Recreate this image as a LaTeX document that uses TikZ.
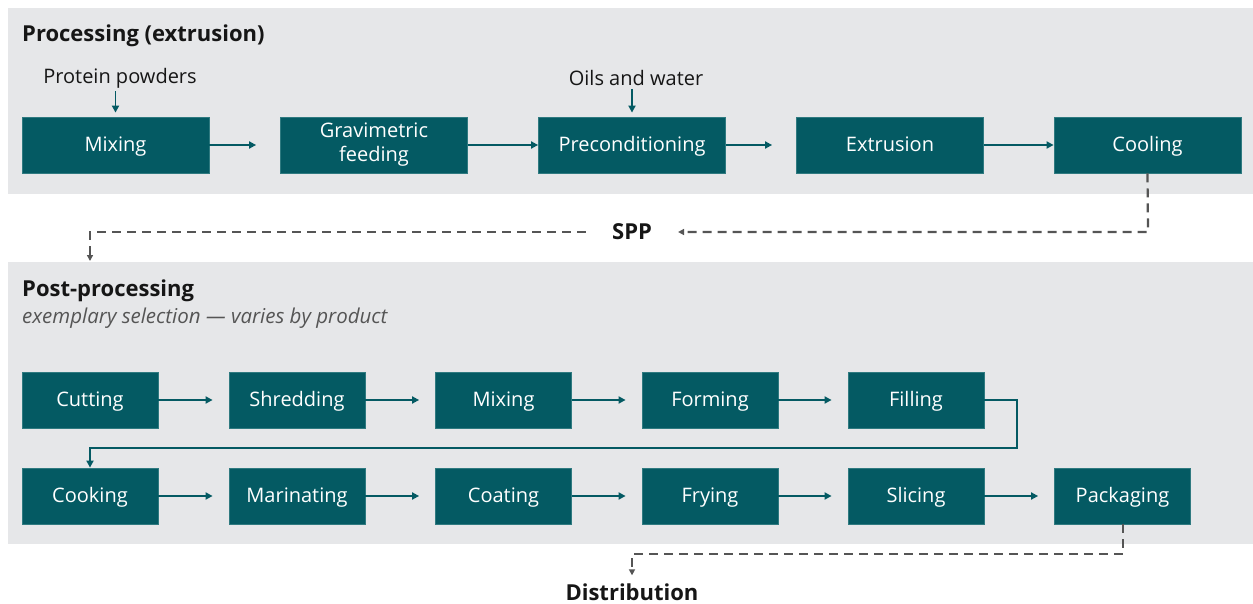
\documentclass[tikz,border=0pt]{standalone}
\usepackage{fontspec}
\setmainfont{Open Sans}
\usetikzlibrary{arrows.meta,calc}
\definecolor{teal}{HTML}{045A63}
\definecolor{tealedge}{HTML}{2F7A80}
\definecolor{band}{HTML}{E6E7E9}
\definecolor{dashgray}{HTML}{555555}
\definecolor{ink}{HTML}{161616}
\begin{document}
\begin{tikzpicture}[x=1pt,y=-1pt,
  stepbase/.style={draw=tealedge,line width=0.8pt,fill=teal,text=white,font=\fontsize{20}{24}\selectfont,align=center,minimum height=56pt,inner sep=0pt},
  stepbox/.style={stepbase,text height=15pt,text depth=1.5pt},
  widebox/.style={stepbox,minimum width=187pt},
  narrowbox/.style={stepbox,minimum width=136pt},
  arr/.style={draw=teal,line width=1.8pt,-{Triangle[length=7pt,width=7pt]}},
  dasharr/.style={draw=dashgray,line width=2.2pt,dash pattern=on 9pt off 6pt,-{Triangle[length=6pt,width=6pt]}},
  sectitle/.style={anchor=west,text=ink,font=\fontsize{22}{26}\selectfont\bfseries,inner sep=0pt},
  label/.style={text=ink,font=\fontsize{20}{24}\selectfont,inner sep=0pt},
  bigbold/.style={text=ink,font=\fontsize{22}{26}\selectfont\bfseries,inner sep=0pt},
]
\useasboundingbox (0,0) rectangle (1253,604);
\fill[white] (0,0) rectangle (1253,604);
% bands
\fill[band] (8,8) rectangle (1253,194);
\fill[band] (8,262) rectangle (1253,544);

% titles
\node[sectitle] (t1) at (22,36) {Processing (extrusion)};
\node[sectitle] (t2) at (22,291) {Post-processing};
\node[anchor=west,inner sep=0pt,text=dashgray,font=\fontsize{20.5}{24}\selectfont\itshape] (t3) at (22,318) {exemplary selection — varies by product};

% top row
\node[widebox] (mix1) at (115.5,145) {Mixing};
\node[stepbase,minimum width=187pt] (grav) at (374,145) {Gravimetric\\feeding};
\node[widebox] (prec) at (632,145) {Preconditioning};
\node[widebox] (extr) at (890,145) {Extrusion};
\node[widebox] (cool) at (1147.5,145) {Cooling};

\node[label] (pp) at (120,78) {Protein powders};
\node[label] (ow) at (636,78) {Oils and water};

\draw[arr] (pp.south -| mix1.north) ++(0,3) -- ($(mix1.north)+(0,-4)$);
\draw[arr] (ow.south -| prec.north) ++(0,3) -- ($(prec.north)+(0,-4)$);

\draw[arr,shorten >=24pt] (mix1) -- (grav);
\draw[arr] (grav) -- (prec);
\draw[arr,shorten >=24pt] (prec) -- (extr);
\draw[arr] (extr) -- (cool);

% SPP
\node[bigbold] (spp) at (632,232) {SPP};
\coordinate (c1) at (1148,232);
\coordinate (c2) at (90,232);
\coordinate (c3) at (90,261);
\draw[dasharr,shorten >=26pt] (cool.south) -- (c1) -- (spp.east);
\draw[dasharr,shorten <=26pt] (spp.west) -- (c2) -- (c3);

% bottom rows
\node[narrowbox] (cut) at (90,400) {Cutting};
\node[narrowbox] (shr) at (297,400) {Shredding};
\node[narrowbox] (mix2) at (503.5,400) {Mixing};
\node[narrowbox] (form) at (710,400) {Forming};
\node[narrowbox] (fill) at (916,400) {Filling};

\node[narrowbox] (cook) at (90,496) {Cooking};
\node[narrowbox] (mari) at (297,496) {Marinating};
\node[narrowbox] (coat) at (503.5,496) {Coating};
\node[narrowbox] (fry) at (710,496) {Frying};
\node[narrowbox] (slic) at (916,496) {Slicing};
\node[narrowbox] (pack) at (1122.5,496) {Packaging};

\draw[arr,shorten >=16pt] (cut) -- (shr);
\draw[arr,shorten >=16pt] (shr) -- (mix2);
\draw[arr,shorten >=16pt] (mix2) -- (form);
\draw[arr,shorten >=16pt] (form) -- (fill);
\draw[arr,shorten >=16pt] (cook) -- (mari);
\draw[arr,shorten >=16pt] (mari) -- (coat);
\draw[arr,shorten >=16pt] (coat) -- (fry);
\draw[arr,shorten >=16pt] (fry) -- (slic);
\draw[arr,shorten >=16pt] (slic) -- (pack);

\coordinate (turn) at (1017,448);
\draw[arr] (fill.east) -| (turn) -| (cook.north);

% Distribution
\node[bigbold] (dist) at (632,592) {Distribution};
\coordinate (d1) at (1123,554);
\coordinate (d2) at (632,554);
\draw[dasharr,shorten >=8pt] (pack.south -| d1) -- (d1) -- (d2) -- (dist.north);
\end{tikzpicture}
\end{document}
